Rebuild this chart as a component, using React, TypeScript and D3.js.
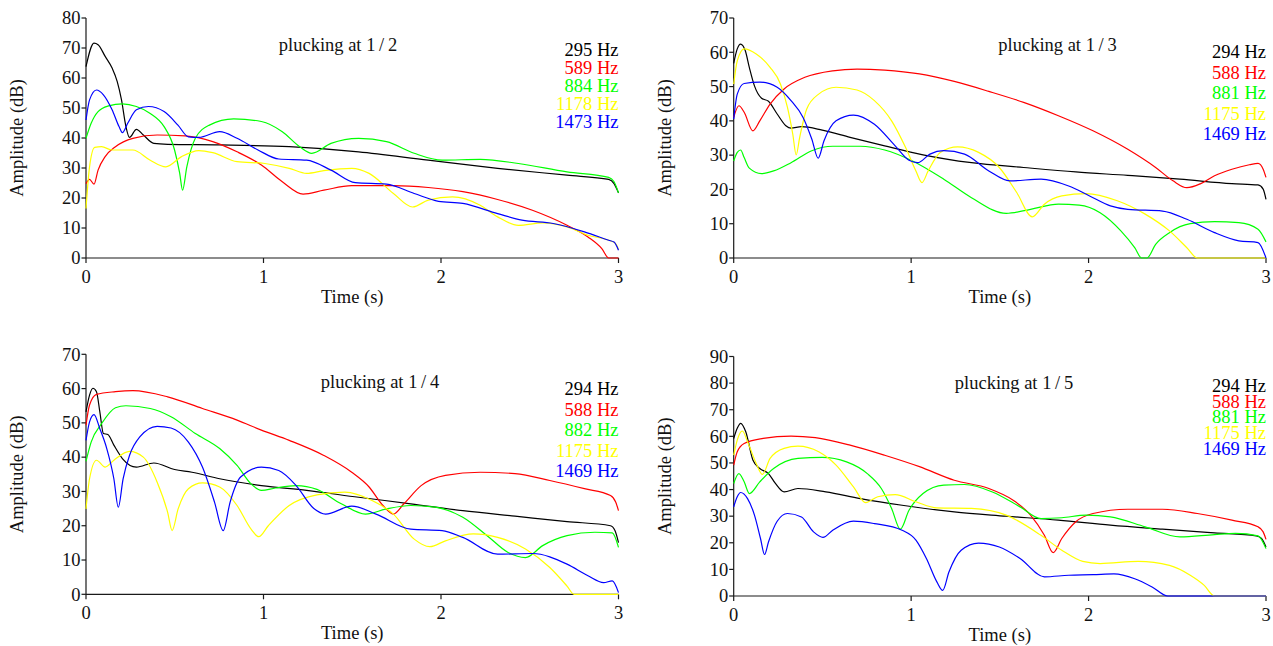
import React from 'react';
import * as d3 from 'd3';

type Pt = [number, number];

const TIME_TICKS = [0, 1, 2, 3];
const SERIES_COLORS = ['#000000', '#ff0000', '#00ff00', '#ffff00', '#0000ff'];

// ---------- Panel 1: plucking at 1/2 ----------
const P1_TITLE = 'plucking at 1\u2009/\u20092';
const P1_LABELS = ['295 Hz', '589 Hz', '884 Hz', '1178 Hz', '1473 Hz'];
const P1_Y_TICKS = [0, 10, 20, 30, 40, 50, 60, 70, 80];
const p1_295: Pt[] = [[0,63.8],[0.045,71.6],[0.068,71.1],[0.108,67.2],[0.147,63.3],[0.176,58.8],[0.2,52.7],[0.225,43.8],[0.245,40.2],[0.284,42.9],[0.323,41],[0.382,38.2],[0.46,37.9],[0.753,37.7],[1.145,37.1],[1.536,35.4],[1.928,32.6],[2.319,29.9],[2.71,27.6],[2.945,26.2],[2.975,24.8],[3,21.7]];
const p1_589: Pt[] = [[0,24.8],[0.02,26.2],[0.045,24.6],[0.068,29.3],[0.108,33.8],[0.166,37.1],[0.264,39.9],[0.401,41],[0.558,40.7],[0.714,38.8],[0.851,35.4],[0.988,31],[1.106,25.4],[1.223,21.3],[1.34,22.6],[1.497,24.1],[1.732,24.1],[1.928,23.5],[2.123,22.1],[2.319,19.5],[2.515,15.9],[2.71,10.9],[2.828,7],[2.906,3.1],[2.945,0],[3,0]];
const p1_884: Pt[] = [[0,39.9],[0.029,44.9],[0.068,48.8],[0.127,50.7],[0.205,51.4],[0.284,50.5],[0.362,48.2],[0.44,43.8],[0.499,36],[0.528,28.2],[0.544,22.6],[0.568,30.4],[0.616,39.9],[0.695,44.3],[0.832,46.4],[0.988,45.5],[1.106,42.1],[1.204,37.1],[1.272,34.9],[1.38,38.2],[1.536,39.9],[1.693,38.8],[1.849,34.9],[2.006,32.6],[2.221,32.9],[2.436,31.5],[2.71,28.7],[2.945,26.9],[2.975,25.4],[3,21.7]];
const p1_1178: Pt[] = [[0,16.5],[0.02,30.4],[0.049,36.9],[0.088,37.1],[0.147,36],[0.264,36],[0.362,32.6],[0.45,30.4],[0.538,33.8],[0.636,35.8],[0.714,35.1],[0.851,32.1],[1.008,31.5],[1.145,29.9],[1.243,28.2],[1.34,29.1],[1.497,29.9],[1.595,28.2],[1.732,21.5],[1.84,17],[1.928,19.3],[2.065,20.4],[2.221,17.6],[2.319,13.7],[2.436,10.9],[2.573,11.7],[2.71,10.4],[2.828,7.6],[2.945,5.9],[2.984,4.8],[3,2.8]];
const p1_1473: Pt[] = [[0,46],[0.02,52.7],[0.059,56],[0.098,54.4],[0.147,49.4],[0.186,43.8],[0.205,41.8],[0.235,44.9],[0.284,49.4],[0.352,50.5],[0.44,48.8],[0.518,44.3],[0.577,40.4],[0.636,40.2],[0.753,42.1],[0.851,39.9],[0.969,36],[1.086,33],[1.243,32.6],[1.38,29.3],[1.517,25.1],[1.693,24.6],[1.849,21.5],[1.986,18.9],[2.123,18.2],[2.319,14.8],[2.456,12.6],[2.632,11.5],[2.808,8.7],[2.945,5.9],[2.975,5.3],[3,2.6]];

// ---------- Panel 2: plucking at 1/3 ----------
const P2_TITLE = 'plucking at 1\u2009/\u20093';
const P2_LABELS = ['294 Hz', '588 Hz', '881 Hz', '1175 Hz', '1469 Hz'];
const P2_Y_TICKS = [0, 10, 20, 30, 40, 50, 60, 70];
const p2_294: Pt[] = [[0,56.8],[0.02,61],[0.039,62.4],[0.065,60.5],[0.088,55.6],[0.117,50.2],[0.157,46.6],[0.196,45.7],[0.245,42],[0.294,38.6],[0.323,37.9],[0.382,38.3],[0.499,37.3],[0.656,35.2],[0.851,32.7],[1.067,30.1],[1.34,27.8],[1.634,26.4],[1.928,25.1],[2.221,24.1],[2.515,23],[2.808,21.7],[2.955,21.3],[2.984,20.1],[3,17.1]];
const p2_588: Pt[] = [[0,41],[0.029,44.4],[0.059,42.5],[0.108,37.1],[0.147,40],[0.205,44.9],[0.284,49.3],[0.401,52.7],[0.558,54.6],[0.695,55.1],[0.851,54.8],[1.047,53.7],[1.243,51.5],[1.438,48.6],[1.634,45.4],[1.83,41.5],[2.025,37.1],[2.221,31.7],[2.378,26.4],[2.476,22.5],[2.554,20.5],[2.632,21.7],[2.71,24],[2.808,25.9],[2.906,27.2],[2.955,27.6],[2.984,25.9],[3,23.5]];
const p2_881: Pt[] = [[0,28.3],[0.02,30.8],[0.039,31.5],[0.059,29.3],[0.088,26.2],[0.157,24.6],[0.225,25.4],[0.323,27.8],[0.44,31.3],[0.558,32.6],[0.714,32.6],[0.851,31.5],[1.008,28.3],[1.184,23],[1.34,17.6],[1.536,13],[1.673,14.2],[1.83,15.7],[1.947,15.4],[2.065,13.2],[2.182,7.9],[2.26,3],[2.299,0],[2.329,0],[2.378,4],[2.456,7.4],[2.573,10],[2.71,10.6],[2.847,10.3],[2.955,8.4],[3,4.7]];
const p2_1175: Pt[] = [[0,50.7],[0.02,57.5],[0.059,61],[0.127,59.5],[0.205,55.6],[0.264,50.7],[0.303,43.9],[0.333,36.1],[0.352,30.1],[0.372,35.2],[0.411,43.4],[0.479,47.8],[0.577,49.8],[0.695,49],[0.793,45.9],[0.89,40],[0.969,32.2],[1.027,25.4],[1.061,22],[1.096,25.4],[1.164,30.8],[1.262,32.4],[1.38,30.8],[1.497,26.4],[1.595,19.1],[1.683,12],[1.751,15.7],[1.849,18.1],[1.986,18.8],[2.162,16.7],[2.319,12.8],[2.456,7.9],[2.554,3],[2.613,0],[3,0]];
const p2_1469: Pt[] = [[0,40.5],[0.02,47.8],[0.059,50.9],[0.147,51.3],[0.245,49.8],[0.323,45.9],[0.391,41],[0.44,34.7],[0.476,29.1],[0.509,34.2],[0.577,40],[0.675,41.7],[0.793,39],[0.91,32.7],[0.988,28.5],[1.037,27.8],[1.106,30.3],[1.184,31.3],[1.301,30.3],[1.438,25.4],[1.556,22.5],[1.732,23],[1.888,21],[2.006,18.1],[2.123,15.2],[2.221,14.2],[2.417,13.7],[2.554,11.3],[2.71,7.4],[2.847,5],[2.955,4.5],[3,0]];

// ---------- Panel 3: plucking at 1/4 ----------
const P3_TITLE = 'plucking at 1\u2009/\u20094';
const P3_LABELS = ['294 Hz', '588 Hz', '882 Hz', '1175 Hz', '1469 Hz'];
const P3_Y_TICKS = [0, 10, 20, 30, 40, 50, 60, 70];
const p3_294: Pt[] = [[0,53.2],[0.02,58.1],[0.039,60.1],[0.059,59.1],[0.078,53.2],[0.098,46.9],[0.123,46.6],[0.157,43.5],[0.205,39.6],[0.284,37.1],[0.382,38.3],[0.499,36.4],[0.597,35.6],[0.753,33.7],[0.988,31.7],[1.243,30.3],[1.536,28.3],[1.83,26.4],[2.123,24.4],[2.417,22.8],[2.71,21.2],[2.955,20],[2.98,18.6],[3,15.1]];
const p3_588: Pt[] = [[0,49.3],[0.02,55.2],[0.059,58.3],[0.166,59.1],[0.264,59.4],[0.46,57.6],[0.656,54.2],[0.851,50.8],[0.988,47.9],[1.145,44.9],[1.34,40.5],[1.497,35.6],[1.595,31.3],[1.673,25.9],[1.732,23.4],[1.791,26.4],[1.888,31.7],[2.025,34.7],[2.221,35.6],[2.417,35.2],[2.613,33.2],[2.808,30.8],[2.955,28.8],[2.984,26.9],[3,24.4]];
const p3_882: Pt[] = [[0,38.8],[0.029,44.4],[0.088,49.8],[0.166,54.4],[0.225,55],[0.362,54.2],[0.479,51.8],[0.616,46.9],[0.753,42.5],[0.851,37.6],[0.93,32.2],[0.988,30.3],[1.067,31],[1.184,31.7],[1.301,30.6],[1.438,26.4],[1.575,23.4],[1.693,24.9],[1.83,25.9],[1.967,25.4],[2.123,22.5],[2.26,17.1],[2.378,12.2],[2.476,10.7],[2.573,14.2],[2.71,17.1],[2.867,18.1],[2.965,17.9],[3,13.7]];
const p3_1175: Pt[] = [[0,24.9],[0.02,33.7],[0.059,39.1],[0.108,37.1],[0.157,39.1],[0.245,41.7],[0.323,40],[0.401,32.7],[0.46,23.9],[0.485,18.6],[0.519,24.9],[0.577,30.8],[0.656,32.5],[0.753,31.3],[0.851,25.9],[0.93,19],[0.973,16.8],[1.027,20],[1.145,25.9],[1.301,29],[1.458,29.8],[1.614,27.3],[1.732,23.4],[1.849,16.1],[1.937,13.9],[2.025,15.6],[2.182,17.6],[2.319,16.6],[2.476,13.2],[2.613,7.8],[2.71,2.4],[2.75,0],[3,0]];
const p3_1469: Pt[] = [[0,44.9],[0.02,50.3],[0.045,52.4],[0.078,48.3],[0.117,42.5],[0.157,33.7],[0.182,25.4],[0.209,33.7],[0.245,40.5],[0.303,45.9],[0.401,49],[0.479,48.5],[0.577,44.4],[0.656,37.1],[0.724,26.9],[0.773,18.6],[0.812,26.9],[0.871,34.2],[0.988,37.1],[1.086,36.1],[1.184,31.7],[1.282,25.1],[1.35,23.4],[1.497,25.7],[1.634,23.4],[1.83,19],[2.006,18.6],[2.123,16.6],[2.319,11.7],[2.515,11.9],[2.71,8.8],[2.828,5.4],[2.916,3.4],[2.965,3.9],[3,0.5]];

// ---------- Panel 4: plucking at 1/5 ----------
const P4_TITLE = 'plucking at 1\u2009/\u20095';
const P4_LABELS = ['294 Hz', '588 Hz', '881 Hz', '1175 Hz', '1469 Hz'];
const P4_Y_TICKS = [0, 10, 20, 30, 40, 50, 60, 70, 80, 90];
const p4_294: Pt[] = [[0,59.2],[0.02,63],[0.039,64.9],[0.068,61.7],[0.108,51.1],[0.147,47.9],[0.196,46],[0.235,42.3],[0.284,39.1],[0.362,40.4],[0.519,39.1],[0.714,36.6],[0.949,34.1],[1.243,31.6],[1.536,30],[1.83,28.5],[2.123,26.6],[2.417,25.1],[2.71,23.7],[2.945,22.6],[2.975,21.6],[3,18.4]];
const p4_588: Pt[] = [[0,49.2],[0.02,54.2],[0.059,57.3],[0.166,59.2],[0.323,60.1],[0.46,59.5],[0.656,56.7],[0.851,52.9],[1.047,48.6],[1.243,43.5],[1.438,40.4],[1.575,36],[1.673,30.4],[1.751,22.8],[1.8,16.3],[1.849,21.6],[1.928,27.9],[2.025,31],[2.221,32.6],[2.417,32.6],[2.613,31],[2.808,28.5],[2.955,26],[2.984,24.1],[3,21.3]];
const p4_881: Pt[] = [[0,42.3],[0.029,46],[0.059,42.9],[0.088,38.5],[0.147,42.9],[0.225,47.9],[0.362,51.7],[0.499,52.1],[0.636,50.4],[0.753,46],[0.832,40.4],[0.89,32.9],[0.939,25.1],[0.988,32.2],[1.067,38.5],[1.184,41.7],[1.301,41.9],[1.458,39.1],[1.614,33.5],[1.732,29.1],[1.849,29.4],[1.986,30.4],[2.123,29.7],[2.319,26],[2.515,22.2],[2.71,23.1],[2.828,23.5],[2.955,22.6],[3,17.8]];
const p4_1175: Pt[] = [[0,52.9],[0.02,58.6],[0.049,62],[0.078,58],[0.127,49.8],[0.162,45.7],[0.205,51.7],[0.284,55.5],[0.362,56.3],[0.479,54.2],[0.577,49.2],[0.675,41],[0.744,35.1],[0.812,37.3],[0.91,38.1],[1.027,35.4],[1.145,33.1],[1.34,32.9],[1.536,30.4],[1.732,22.8],[1.849,17.2],[1.967,13],[2.065,12.2],[2.28,13],[2.456,11.5],[2.573,7.8],[2.652,4],[2.71,0],[3,0]];
const p4_1469: Pt[] = [[0,33.5],[0.02,37.3],[0.039,38.9],[0.078,36.6],[0.117,30.4],[0.151,21.6],[0.174,15.6],[0.196,20.3],[0.245,28.1],[0.303,31],[0.382,29.7],[0.45,24.1],[0.503,22],[0.558,24.7],[0.675,28.1],[0.793,27.2],[0.949,24.7],[1.027,21],[1.086,14.1],[1.145,5.3],[1.178,2.1],[1.213,9],[1.282,17.2],[1.38,19.9],[1.497,18.4],[1.614,14.1],[1.751,7.2],[1.888,7.8],[2.025,8],[2.143,8.3],[2.26,6.5],[2.358,3.4],[2.446,0],[3,0]];

// ---------- layout (positions only) ----------
interface PanelLayout {
  x0: number; x1: number; yTop: number; yBot: number;
  titleX: number; titleY: number;
  legendY: number; legendStep: number;
}
const LAYOUTS: PanelLayout[] = [
  { x0: 86, x1: 618.5, yTop: 18, yBot: 258, titleX: 338, titleY: 51, legendY: 56, legendStep: 17.9 },
  { x0: 733.7, x1: 1266, yTop: 18, yBot: 258, titleX: 1057.5, titleY: 51, legendY: 58, legendStep: 20.5 },
  { x0: 86, x1: 618.5, yTop: 354.3, yBot: 594.3, titleX: 380, titleY: 388, legendY: 395, legendStep: 20.6 },
  { x0: 733.7, x1: 1266, yTop: 356.5, yBot: 596, titleX: 1014, titleY: 389, legendY: 391.7, legendStep: 15.8 },
];

const PANELS = [
  { title: P1_TITLE, labels: P1_LABELS, yTicks: P1_Y_TICKS, series: [p1_295, p1_589, p1_884, p1_1178, p1_1473] },
  { title: P2_TITLE, labels: P2_LABELS, yTicks: P2_Y_TICKS, series: [p2_294, p2_588, p2_881, p2_1175, p2_1469] },
  { title: P3_TITLE, labels: P3_LABELS, yTicks: P3_Y_TICKS, series: [p3_294, p3_588, p3_882, p3_1175, p3_1469] },
  { title: P4_TITLE, labels: P4_LABELS, yTicks: P4_Y_TICKS, series: [p4_294, p4_588, p4_881, p4_1175, p4_1469] },
];

const FONT = '"Liberation Serif", "Times New Roman", Times, serif';
const FS = 18.5;
const AXIS_COLOR = '#1a1a1a';

function Panel({ idx }: { idx: number }) {
  const p = PANELS[idx];
  const L = LAYOUTS[idx];
  const yMax = p.yTicks[p.yTicks.length - 1];
  const x = d3.scaleLinear().domain([0, 3]).range([L.x0, L.x1]);
  const y = d3.scaleLinear().domain([0, yMax]).range([L.yBot, L.yTop]);
  const line = d3.line<Pt>().x(d => x(d[0])).y(d => y(d[1])).curve(d3.curveMonotoneX);
  const midX = (L.x0 + L.x1) / 2;
  const midY = (L.yTop + L.yBot) / 2;
  return (
    <g>
      {/* axes */}
      <line x1={L.x0} x2={L.x0} y1={y(yMax)} y2={y(0)} stroke={AXIS_COLOR} strokeWidth={1.2} />
      <line x1={L.x0} x2={L.x1} y1={y(0)} y2={y(0)} stroke={AXIS_COLOR} strokeWidth={1.2} />
      {p.yTicks.map(t => (
        <g key={'y' + t}>
          <line x1={L.x0 - 4.5} x2={L.x0} y1={y(t)} y2={y(t)} stroke={AXIS_COLOR} strokeWidth={1.2} />
          <text x={L.x0 - 5.5} y={y(t)} dy="0.34em" textAnchor="end" fontSize={FS} fontFamily={FONT} fill="#111">{t}</text>
        </g>
      ))}
      {TIME_TICKS.map(t => (
        <g key={'x' + t}>
          <line x1={x(t)} x2={x(t)} y1={y(0)} y2={y(0) + 5} stroke={AXIS_COLOR} strokeWidth={1.2} />
          <text x={x(t)} y={y(0) + 24.5} textAnchor="middle" fontSize={FS} fontFamily={FONT} fill="#111">{t}</text>
        </g>
      ))}
      <text x={midX} y={L.yBot + 44.5} textAnchor="middle" fontSize={FS} fontFamily={FONT} fill="#111">Time (s)</text>
      <text transform={`translate(${L.x0 - 63},${midY}) rotate(-90)`} textAnchor="middle" fontSize={FS} fontFamily={FONT} fill="#111">Amplitude (dB)</text>
      {/* title */}
      <text x={L.titleX} y={L.titleY} textAnchor="middle" fontSize={FS} fontFamily={FONT} fill="#111">{p.title}</text>
      {/* series */}
      {p.series.map((s, i) => (
        <path key={'s' + i} d={line(s) || ''} fill="none" stroke={SERIES_COLORS[i]} strokeWidth={1.2} strokeLinejoin="round" />
      ))}
      {/* legend */}
      {p.labels.map((lab, i) => (
        <text key={'l' + i} x={L.x1} y={L.legendY + i * L.legendStep} textAnchor="end" fontSize={FS} fontFamily={FONT} fill={SERIES_COLORS[i]}>{lab}</text>
      ))}
    </g>
  );
}

export default function App() {
  return (
    <svg width={1273} height={646} style={{ position: 'absolute', left: 0, top: 0, background: '#fff' }}>
      <rect x={0} y={0} width={1273} height={646} fill="#ffffff" />
      {PANELS.map((_, i) => <Panel key={i} idx={i} />)}
    </svg>
  );
}
